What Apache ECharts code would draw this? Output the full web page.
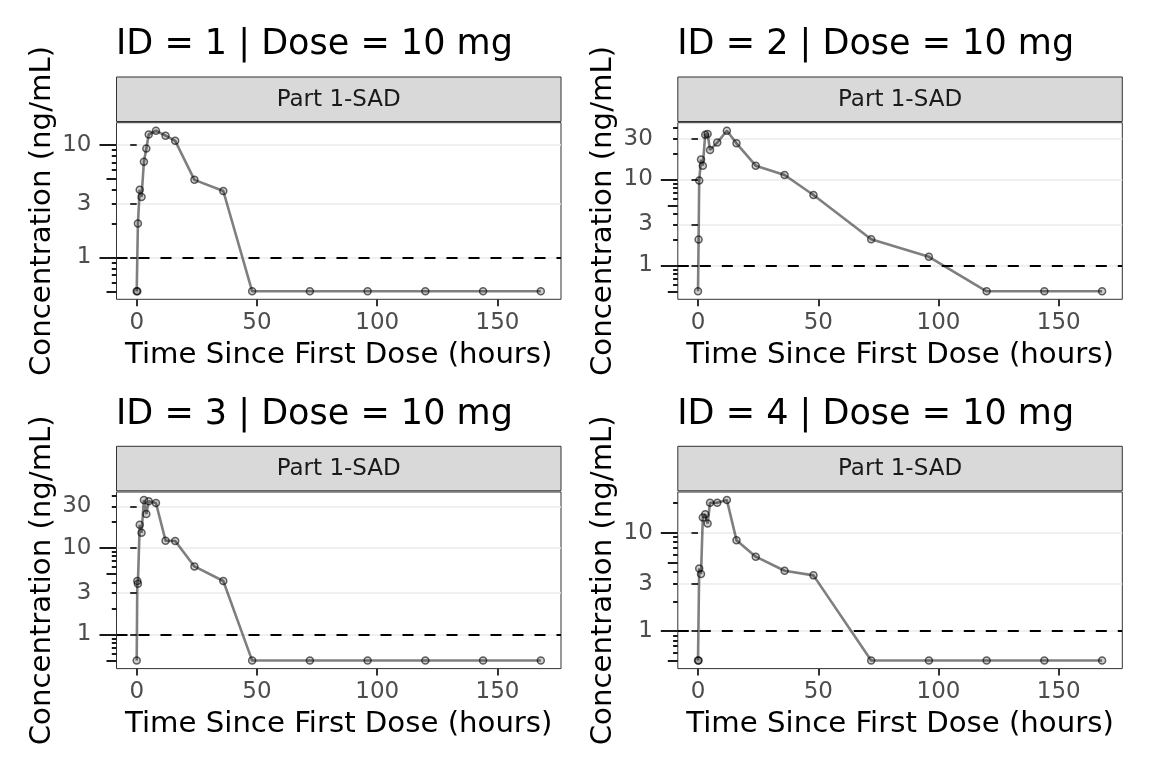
<!DOCTYPE html>
<html><head><meta charset="utf-8">
<script src="https://cdn.jsdelivr.net/npm/echarts@6/dist/echarts.min.js"></script>
<style>html,body{margin:0;padding:0;background:#fff}#c{width:1152px;height:768px}</style>
</head><body><div id="c"></div>
<script>
// ---- data (hours, ng/mL); BLQ samples plotted at LLOQ/2 = 0.5 ----
const times = [0, 0.25, 0.5, 1.25, 2, 3, 4, 5, 8, 12, 16, 24, 36, 48, 72, 96, 120, 144, 168];
const conc1 = [0.5, 0.5, 2.0, 4.0, 3.45, 7.1, 9.3, 12.4, 13.4, 12.1, 10.9, 4.9, 3.9, 0.5, 0.5, 0.5, 0.5, 0.5, 0.5];
const conc2 = [0.5, 2.0, 9.75, 17.1, 14.5, 33.3, 33.9, 22.1, 26.9, 37, 26.4, 14.5, 11.3, 6.6, 2.02, 1.26, 0.5, 0.5, 0.5];
const conc3 = [0.5, 4.14, 3.86, 18.4, 14.9, 35.6, 24.6, 34.4, 32.9, 12.1, 12.0, 6.1, 4.14, 0.5, 0.5, 0.5, 0.5, 0.5, 0.5];
const conc4 = [0.5, 0.5, 4.33, 3.8, 14.3, 15.4, 12.4, 20.2, 20.2, 21.5, 8.4, 5.7, 4.1, 3.68, 0.5, 0.5, 0.5, 0.5, 0.5];
const panelTitles = ['ID = 1 | Dose = 10 mg', 'ID = 2 | Dose = 10 mg', 'ID = 3 | Dose = 10 mg', 'ID = 4 | Dose = 10 mg'];
const stripLabels = ['Part 1-SAD', 'Part 1-SAD', 'Part 1-SAD', 'Part 1-SAD'];
const xTickValues = [0, 50, 100, 150];
const yTickValues = [1, 3, 10, 30, 100];
const lloq = 1;
const logShortTicks = [0.2, 0.3, 0.4, 0.6, 0.7, 0.8, 0.9, 2, 3, 4, 6, 7, 8, 9, 20, 30, 40, 60, 70, 80, 90];
const logMidTicks = [0.5, 5, 50];
const logLongTicks = [0.1, 1, 10, 100];
const xTitle = 'Time Since First Dose (hours)';
const yTitle = 'Concentration (ng/mL)';

const concs = [conc1, conc2, conc3, conc4];
const FONT = 'DejaVu Sans';
const colLeft = [116.5, 677.8], rowTop = [122.7, 492], PW = 444.5, PH = 176.6;

const chart = echarts.init(document.getElementById('c'), null, {renderer: 'canvas', width: 1152, height: 768});

const tMin = Math.min(...times), tMax = Math.max(...times);
const tPad = 0.05 * (tMax - tMin);

const grid = [], xAxis = [], yAxis = [], series = [], graphic = [];
concs.forEach((conc, i) => {
  const left = colLeft[i % 2], top = rowTop[Math.floor(i / 2)];
  grid.push({left: left, top: top, width: PW, height: PH, show: true, borderColor: '#333', borderWidth: 1,
             backgroundColor: '#fff', containLabel: false, outerBoundsMode: 'none'});
  const lo = Math.log10(Math.min(...conc)), hi = Math.log10(Math.max(...conc));
  const pad = 0.05 * (hi - lo);
  const yMin = Math.pow(10, lo - pad), yMax = Math.pow(10, hi + pad);
  const inR = v => v >= yMin && v <= yMax;
  xAxis.push({
    type: 'value', gridIndex: i, min: tMin - tPad, max: tMax + tPad,
    axisLine: {show: false}, splitLine: {show: false},
    axisTick: {show: true, length: 7, customValues: xTickValues, lineStyle: {color: '#333', width: 2}},
    axisLabel: {customValues: xTickValues, margin: 12, color: '#4d4d4d', fontSize: 23, fontFamily: FONT},
    name: xTitle, nameLocation: 'middle', nameGap: 41.5,
    nameTextStyle: {color: '#000', fontSize: 29.2, fontFamily: FONT}
  });
  const base = yAxis.length;
  yAxis.push({
    type: 'log', logBase: 10, gridIndex: i, position: 'left', min: yMin, max: yMax,
    axisLine: {show: false},
    axisTick: {show: true, length: 6.5, customValues: yTickValues.filter(inR), lineStyle: {color: '#333', width: 2}},
    axisLabel: {customValues: yTickValues.filter(inR), margin: 25, color: '#4d4d4d', fontSize: 23, fontFamily: FONT},
    splitLine: {show: true, lineStyle: {color: '#ebebeb', width: 1.6}},
    name: yTitle, nameLocation: 'middle', nameGap: 60,
    nameTextStyle: {color: '#000', fontSize: 29.2, fontFamily: FONT}
  });
  [[logShortTicks, 4.7], [logMidTicks, 10], [logLongTicks, 17]].forEach(([vals, len]) => {
    yAxis.push({
      type: 'log', logBase: 10, gridIndex: i, position: 'left', min: yMin, max: yMax,
      axisLine: {show: false}, splitLine: {show: false}, axisLabel: {show: false},
      axisTick: {show: true, length: len, customValues: vals.filter(inR), lineStyle: {color: '#1a1a1a', width: 2}}
    });
  });
  series.push({
    type: 'line', xAxisIndex: i, yAxisIndex: base,
    data: times.map((t, j) => [t, conc[j]]),
    symbol: 'circle', symbolSize: 7, showSymbol: true,
    lineStyle: {color: 'rgba(0,0,0,0.5)', width: 2.6},
    itemStyle: {color: 'rgba(0,0,0,0.18)', borderColor: 'rgba(0,0,0,0.6)', borderWidth: 1.5},
    emphasis: {disabled: true}, silent: true, animation: false, z: 3,
    markLine: {silent: true, symbol: 'none', animation: false, label: {show: false},
      lineStyle: {color: '#000', type: [11, 11], width: 2.2}, data: [{yAxis: lloq}]}
  });
  // strip and panel title
  graphic.push({type: 'rect', shape: {x: left, y: top - 45.7, width: PW, height: 44.5},
    style: {fill: '#d9d9d9', stroke: '#333', lineWidth: 1}, silent: true});
  graphic.push({type: 'text', x: left + PW / 2, y: top - 22.7,
    style: {text: stripLabels[i], fill: '#1a1a1a', fontSize: 23, fontFamily: FONT, align: 'center', verticalAlign: 'middle'}, silent: true});
  graphic.push({type: 'text', x: left - 0.5, y: top - 77.5,
    style: {text: panelTitles[i], fill: '#000', fontSize: 35, fontFamily: FONT, align: 'left', verticalAlign: 'middle'}, silent: true});
});

chart.setOption({
  backgroundColor: '#fff', animation: false,
  textStyle: {fontFamily: FONT},
  grid, xAxis, yAxis, series, graphic
});
</script>
</body></html>
